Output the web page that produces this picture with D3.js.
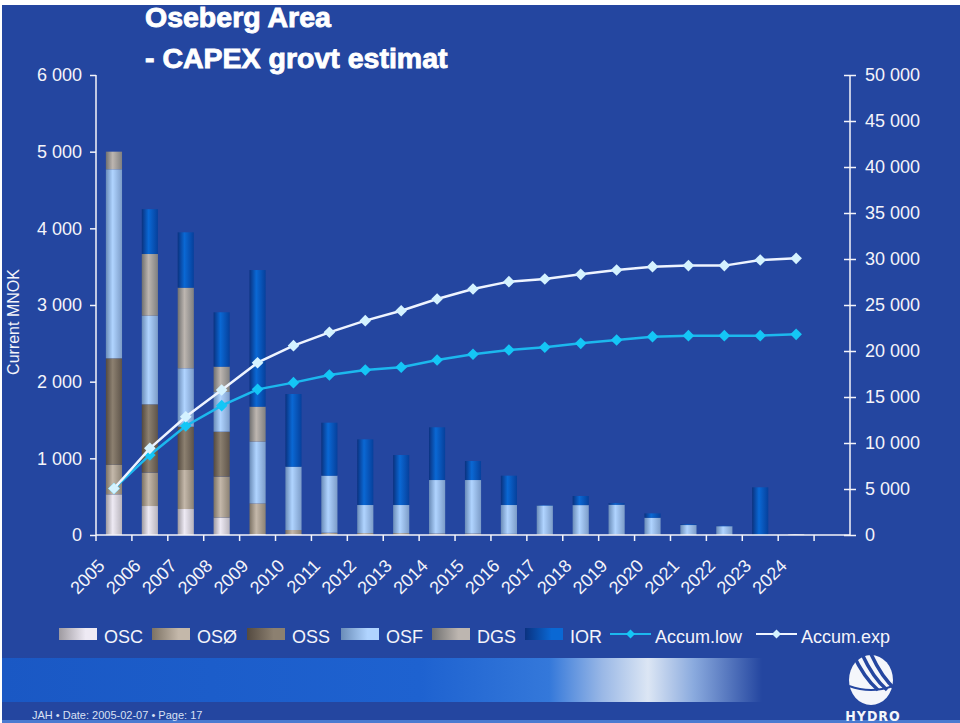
<!DOCTYPE html>
<html><head><meta charset="utf-8">
<script src="https://cdn.jsdelivr.net/npm/d3@7"></script>
<style>
html,body{margin:0;padding:0;background:#fff;}
svg{display:block;font-family:"Liberation Sans",Arial,sans-serif;}
</style></head><body>
<svg id="c" width="960" height="723"></svg>
<script>
// ---------- DATA ----------
const years = ["2005","2006","2007","2008","2009","2010","2011","2012","2013","2014",
               "2015","2016","2017","2018","2019","2020","2021","2022","2023","2024"];
const seriesNames = ["OSC","OSØ","OSS","OSF","DGS","IOR"];
const OSC = [530,378,339,226,13,10,0,0,0,0,0,0,0,0,0,0,0,0,0,10];
const OSO = [385,435,509,535,400,55,30,25,25,20,20,15,10,10,5,5,0,0,0,0];
const OSS = [1390,892,565,587,0,0,0,0,0,0,0,0,0,0,0,0,0,0,0,0];
const OSF = [2465,1155,761,517,804,826,744,366,366,697,697,376,375,380,390,220,130,115,0,0];
const DGS = [230,805,1052,331,457,0,0,0,0,0,0,0,0,0,0,0,0,0,0,0];
const IOR = [0,585,722,709,1782,948,691,857,652,688,248,383,5,119,20,57,9,5,622,0];
const accumLow = [5050,8700,11850,14060,15830,16560,17390,17940,18230,19020,
                  19640,20110,20400,20830,21200,21560,21670,21670,21670,21810];
const accumExp = [5050,9420,12860,15760,18730,20580,22030,23300,24380,25650,
                  26740,27540,27830,28330,28800,29170,29280,29280,29890,30070];
const leftTicks = [0,1000,2000,3000,4000,5000,6000];
const rightTicks = [0,5000,10000,15000,20000,25000,30000,35000,40000,45000,50000];
const titleLines = ["Oseberg Area","- CAPEX grovt estimat"];
const yTitle = "Current MNOK";
const footer = "JAH • Date: 2005-02-07 • Page: 17";

// ---------- STYLE ----------
const BG = "#2446a0";
const seriesColors = {
  "OSC": ["#9e9aa0","#eeeaf4","#b8b4bc"],
  "OSØ": ["#7c7264","#c4b8aa","#8c8274"],
  "OSS": ["#544a40","#8c8070","#5e544a"],
  "OSF": ["#6a8cb8","#b0d4ff","#7c9cc8"],
  "DGS": ["#707070","#bdb6b0","#808080"],
  "IOR": ["#0a3280","#0a68d4","#06409c"]
};
const seriesData = {"OSC":OSC,"OSØ":OSO,"OSS":OSS,"OSF":OSF,"DGS":DGS,"IOR":IOR};

const svg = d3.select("#c");
const loc = d3.formatLocale({decimal:",",thousands:" ",grouping:[3],currency:["",""]});
const fmt = loc.format(",");

// background
svg.append("rect").attr("x",0).attr("y",0).attr("width",960).attr("height",723).attr("fill","#fff");
svg.append("rect").attr("x",2).attr("y",5).attr("width",958).attr("height",718).attr("fill",BG);

const defs = svg.append("defs");
seriesNames.forEach((s,i)=>{
  const c = seriesColors[s];
  const g = defs.append("linearGradient").attr("id","g"+i).attr("x1",0).attr("x2",1).attr("y1",0).attr("y2",0);
  g.append("stop").attr("offset","0%").attr("stop-color",c[0]);
  g.append("stop").attr("offset","42%").attr("stop-color",c[1]);
  g.append("stop").attr("offset","100%").attr("stop-color",c[2]);
  const gl = defs.append("linearGradient").attr("id","l"+i).attr("x1",0).attr("x2",1).attr("y1",0).attr("y2",0);
  gl.append("stop").attr("offset","0%").attr("stop-color",c[0]);
  gl.append("stop").attr("offset","70%").attr("stop-color",c[1]);
  gl.append("stop").attr("offset","100%").attr("stop-color",c[1]);
});
const band = defs.append("linearGradient").attr("id","band").attr("x1",0).attr("x2",1).attr("y1",0).attr("y2",0);
[["0%","#1a58c4"],["55%","#1e62d0"],["72%","#3478da"],["79%","#9ab8e6"],["85%","#dce6f4"],["91%","#8aaade"],["100%",BG]]
  .forEach(d=>band.append("stop").attr("offset",d[0]).attr("stop-color",d[1]));

// ---------- SCALES ----------
const L = 96, R = 850, T = 75, B = 535;
const x = d3.scaleBand().domain([...years,"pad"]).range([L,R]).paddingInner(0).paddingOuter(0);
const yL = d3.scaleLinear().domain([0,6000]).range([B,T]);
const yR = d3.scaleLinear().domain([0,50000]).range([B,T]);
const bw = x.bandwidth()*0.45;

// ---------- BARS ----------
const stackData = years.map((y,i)=>{const o={year:y}; seriesNames.forEach(s=>o[s]=seriesData[s][i]); return o;});
const stacked = d3.stack().keys(seriesNames)(stackData);
stacked.forEach((layer,i)=>{
  svg.append("g").selectAll("rect").data(layer).join("rect")
    .attr("x",d=>x(d.data.year)+x.bandwidth()/2-bw/2)
    .attr("width",bw)
    .attr("y",d=>yL(d[1]))
    .attr("height",d=>Math.max(0,yL(d[0])-yL(d[1])))
    .attr("fill","url(#g"+i+")");
});

// ---------- AXES ----------
const axisCol = "#f4f4fa";
// left axis
const gl = svg.append("g").attr("transform",`translate(${L},0)`)
  .call(d3.axisLeft(yL).tickValues(leftTicks).tickFormat(fmt).tickSize(6).tickPadding(8));
gl.select(".domain").attr("stroke",axisCol).attr("stroke-width",1.5).attr("d",`M0,${T}V${B}`);
gl.selectAll(".tick line").attr("stroke",axisCol).attr("stroke-width",1.5);
gl.selectAll("text").attr("fill",axisCol).attr("font-size",18).attr("font-family","Liberation Sans, Arial");

// right axis
const gr = svg.append("g").attr("transform",`translate(${R},0)`)
  .call(d3.axisRight(yR).tickValues(rightTicks).tickFormat(fmt).tickSizeInner(6).tickSizeOuter(0).tickPadding(9));
gr.select(".domain").attr("stroke",axisCol).attr("stroke-width",1.5).attr("d",`M0,${T}V${B}`);
gr.selectAll(".tick line").attr("stroke",axisCol).attr("stroke-width",1.5).attr("x1",-6).attr("x2",6);
gr.selectAll("text").attr("fill",axisCol).attr("font-size",18).attr("font-family","Liberation Sans, Arial");

// x axis line and boundary ticks
const gx = svg.append("g");
gx.append("line").attr("x1",L).attr("x2",R).attr("y1",B).attr("y2",B).attr("stroke",axisCol).attr("stroke-width",1.5);
gx.selectAll("line.t").data(x.domain()).join("line").attr("class","t")
  .attr("x1",d=>x(d)).attr("x2",d=>x(d)).attr("y1",B).attr("y2",B+6)
  .attr("stroke",axisCol).attr("stroke-width",1.5);
gx.selectAll("text").data(years).join("text")
  .attr("transform",d=>`translate(${x(d)+x.bandwidth()/2-8},${B+32}) rotate(-45)`)
  .attr("text-anchor","end").attr("fill",axisCol).attr("font-size",18)
  .text(d=>d);

// y title
svg.append("text").attr("transform","translate(19,322) rotate(-90)")
  .attr("text-anchor","middle").attr("fill",axisCol).attr("font-size",16).text(yTitle);

// ---------- LINES ----------
const cx = d=>x(d)+x.bandwidth()/2;
const lineGen = (arr)=>d3.line().x((d,i)=>cx(years[i])).y(d=>yR(d))(arr);
const diamond = (r)=>`M0,${-r}L${r},0L0,${r}L${-r},0Z`;
function drawLine(arr, lineCol, markCol){
  svg.append("path").attr("d",lineGen(arr)).attr("fill","none").attr("stroke",lineCol).attr("stroke-width",2.5);
  svg.append("g").selectAll("path").data(arr).join("path")
    .attr("transform",(d,i)=>`translate(${cx(years[i])},${yR(d)})`)
    .attr("d",diamond(5.8)).attr("fill",markCol);
}
drawLine(accumLow,"#1cb8ee","#14c6f6");
drawLine(accumExp,"#eef4ff","#d4f2ff");

// ---------- TITLE ----------
[[titleLines[0],27],[titleLines[1],68]].forEach(t=>{
  svg.append("text").attr("x",145).attr("y",t[1]).attr("fill","#fff").attr("stroke","#fff").attr("stroke-width",0.9)
    .attr("font-size",28.5).attr("font-weight","bold").text(t[0]);
});

// ---------- LEGEND ----------
const legX = [59,152,247,341,432,525];
const lg = svg.append("g");
seriesNames.forEach((s,i)=>{
  lg.append("rect").attr("x",legX[i]).attr("y",628).attr("width",38).attr("height",12).attr("fill","url(#l"+i+")");
  lg.append("text").attr("x",legX[i]+45).attr("y",643).attr("fill",axisCol).attr("font-size",18).text(s);
});
[[610,"#1cb8ee","#14c6f6","Accum.low"],[756,"#eef4ff","#d4f2ff","Accum.exp"]].forEach(d=>{
  lg.append("line").attr("x1",d[0]).attr("x2",d[0]+41).attr("y1",634).attr("y2",634).attr("stroke",d[1]).attr("stroke-width",2);
  lg.append("path").attr("transform",`translate(${d[0]+20.5},634)`).attr("d",diamond(4.5)).attr("fill",d[2]);
  lg.append("text").attr("x",d[0]+45).attr("y",643).attr("fill",axisCol).attr("font-size",18).text(d[3]);
});

// ---------- FOOTER ----------
svg.append("rect").attr("x",2).attr("y",658).attr("width",760).attr("height",44).attr("fill","url(#band)");
svg.append("rect").attr("x",2).attr("y",720).attr("width",958).attr("height",3).attr("fill","#4a7ad0");
svg.append("text").attr("x",32).attr("y",719).attr("fill","#d8e0f4").attr("font-size",11).text(footer);

// Hydro logo
const logo = svg.append("g").attr("transform","translate(871,680)");
logo.append("ellipse").attr("rx",22).attr("ry",25).attr("fill","#f4f6fb");
[-9,0,9].forEach(o=>{
  logo.append("path").attr("d",`M${o-9},-26 Q${o+2},-2 ${o+16},10`).attr("fill","none").attr("stroke",BG).attr("stroke-width",3.5);
});
logo.append("path").attr("d","M-22,6 Q0,14 22,6").attr("fill","none").attr("stroke",BG).attr("stroke-width",2);
svg.append("text").attr("x",873).attr("y",721).attr("text-anchor","middle").attr("fill","#f4f6fb")
  .attr("font-size",14).attr("font-weight","bold").attr("font-family","DejaVu Sans Condensed, DejaVu Sans").attr("letter-spacing",1).text("HYDRO");
</script>
</body></html>
